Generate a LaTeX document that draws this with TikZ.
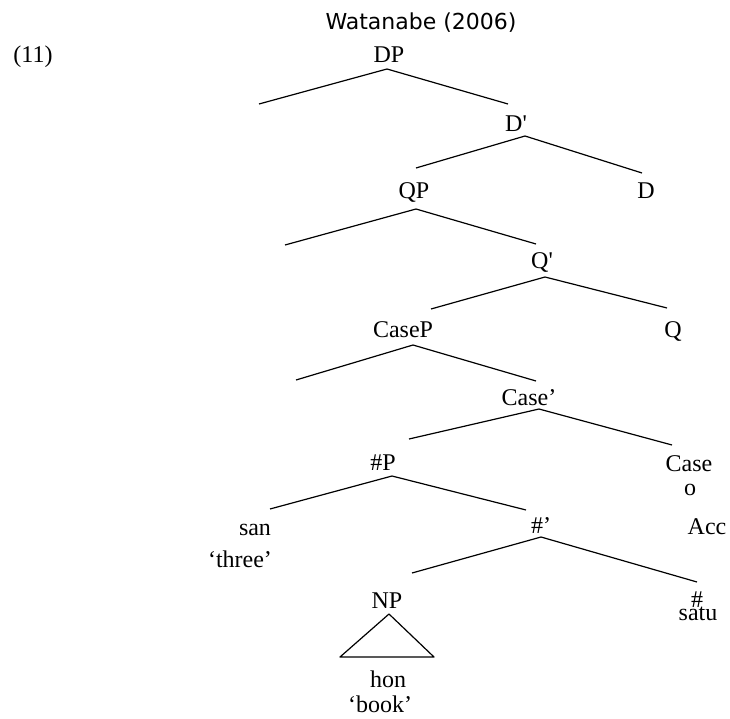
\documentclass[tikz,border=0pt]{standalone}
\usepackage{fontspec}
\setmainfont{Liberation Serif}[Ligatures=TeXOff]
\newfontfamily\titlefont{DejaVu Sans}
\begin{document}
\begin{tikzpicture}[x=1pt,y=-1pt,
  lbl/.style={font=\fontsize{24}{28}\selectfont, inner sep=0pt, anchor=base},
  ttl/.style={font=\titlefont\fontsize{22}{26}\selectfont, inner sep=0pt, anchor=base},
  branch/.style={line width=1.2pt, line join=round}]
\useasboundingbox (0,0) rectangle (730,719);
% texts
\node[ttl] (title) at (421,30) {Watanabe (2006)};
\node[lbl] (ex) at (33,63) {(11)};
\node[lbl] (DP) at (389,63) {DP};
\node[lbl] (Dbar) at (516,132) {D'};
\node[lbl] (QP) at (414,199) {QP};
\node[lbl] (D) at (646,199) {D};
\node[lbl] (Qbar) at (542,268) {Q'};
\node[lbl] (CaseP) at (403,337) {CaseP};
\node[lbl] (Q) at (673,337) {Q};
\node[lbl] (Casebar) at (529,405) {Case’};
\node[lbl] (NumP) at (383,470) {\#P};
\node[lbl] (Case) at (689,471) {Case};
\node[lbl] (o) at (690,495) {o};
\node[lbl] (san) at (255,535) {san};
\node[lbl] (Numbar) at (541,533) {\#’};
\node[lbl] (Acc) at (707,534) {Acc};
\node[lbl] (three) at (240,567) {‘three’};
\node[lbl] (NP) at (387,608) {NP};
\node[lbl] (Num) at (697,607) {\#};
\node[lbl] (satu) at (698,620) {satu};
\node[lbl] (hon) at (388,687) {hon};
\node[lbl] (book) at (380,712) {‘book’};
% branch points
\coordinate (DPa) at (387,69);
\coordinate (DPl) at (259,104);
\coordinate (DPr) at (508,104);
\coordinate (Dbara) at (525,136);
\coordinate (Dbarl) at (416,168);
\coordinate (Dbarr) at (642,173);
\coordinate (QPa) at (416,209);
\coordinate (QPl) at (285,245);
\coordinate (QPr) at (536,244);
\coordinate (Qbara) at (545,277);
\coordinate (Qbarl) at (431,309);
\coordinate (Qbarr) at (667,308);
\coordinate (CasePa) at (413,345);
\coordinate (CasePl) at (296,380);
\coordinate (CasePr) at (536,381);
\coordinate (Casebara) at (539,409);
\coordinate (Casebarl) at (409,439);
\coordinate (Casebarr) at (672,445);
\coordinate (NumPa) at (392,476);
\coordinate (NumPl) at (270,509);
\coordinate (NumPr) at (526,510);
\coordinate (Numbara) at (541,537);
\coordinate (Numbarl) at (412,573);
\coordinate (Numbarr) at (697,582);
\coordinate (NPa) at (389,614);
\coordinate (NPl) at (340,657);
\coordinate (NPr) at (434,657);
% branches
\draw[branch] (DPl) -- (DPa) -- (DPr);
\draw[branch] (Dbarl) -- (Dbara) -- (Dbarr);
\draw[branch] (QPl) -- (QPa) -- (QPr);
\draw[branch] (Qbarl) -- (Qbara) -- (Qbarr);
\draw[branch] (CasePl) -- (CasePa) -- (CasePr);
\draw[branch] (Casebarl) -- (Casebara) -- (Casebarr);
\draw[branch] (NumPl) -- (NumPa) -- (NumPr);
\draw[branch] (Numbarl) -- (Numbara) -- (Numbarr);
\draw[branch] (NPa) -- (NPl) -- (NPr) -- cycle;
\end{tikzpicture}
\end{document}
